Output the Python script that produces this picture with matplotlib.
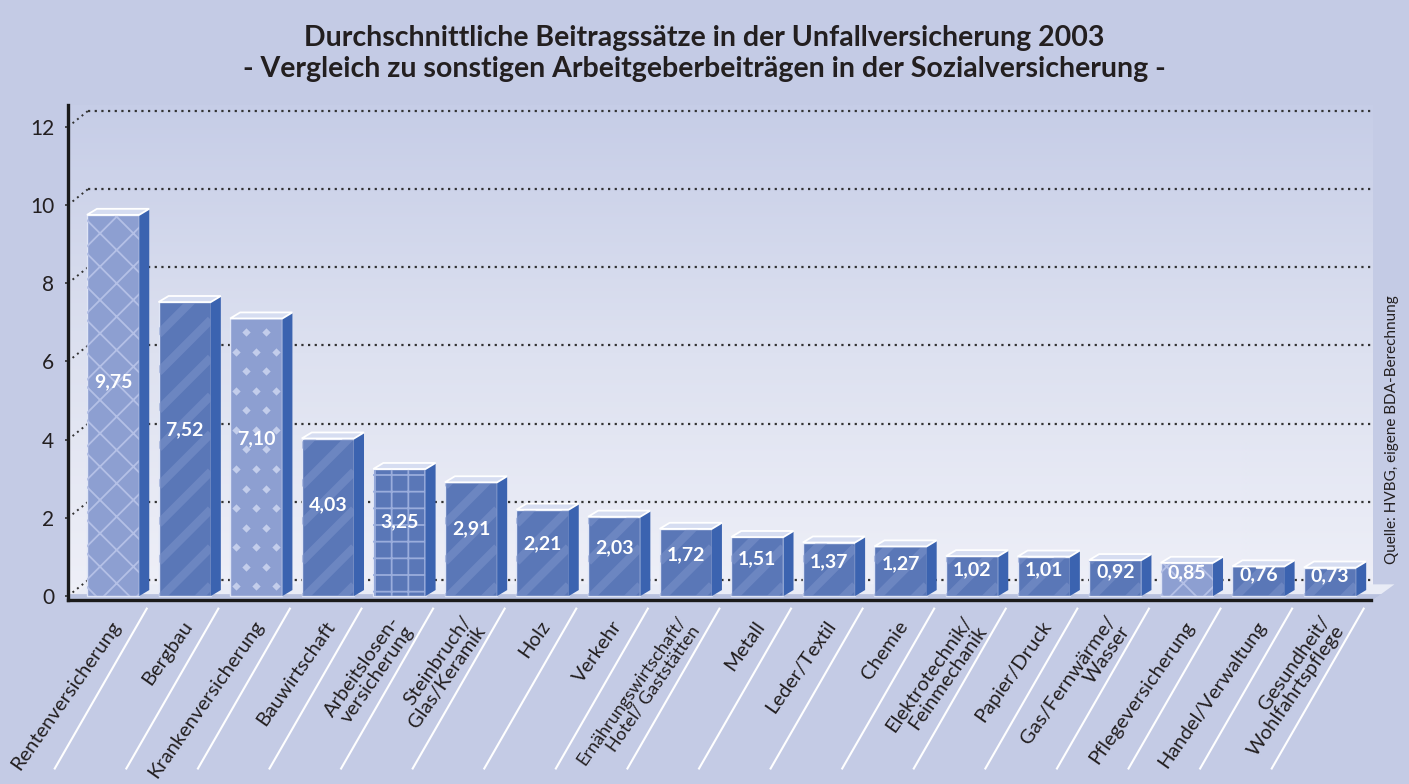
import numpy as np
import matplotlib
matplotlib.use("Agg")
import matplotlib.pyplot as plt
from matplotlib.patches import Polygon
from matplotlib.colors import LinearSegmentedColormap

plt.rcParams["font.family"] = ["Lato", "DejaVu Sans"]
plt.rcParams["hatch.linewidth"] = 1.3

# Daten
kategorien = [
    "Rentenversicherung", "Bergbau", "Krankenversicherung", "Bauwirtschaft",
    "Arbeitslosen-\nversicherung", "Steinbruch/\nGlas/Keramik", "Holz", "Verkehr",
    "Ernährungswirtschaft/\nHotel/ Gaststätten", "Metall", "Leder/Textil", "Chemie",
    "Elektrotechnik/\nFeinmechanik", "Papier/Druck", "Gas/Fernwärme/\nWasser",
    "Pflegeversicherung", "Handel/Verwaltung", "Gesundheit/\nWohlfahrtspflege",
]
werte = [9.75, 7.52, 7.10, 4.03, 3.25, 2.91, 2.21, 2.03, 1.72, 1.51, 1.37, 1.27,
         1.02, 1.01, 0.92, 0.85, 0.76, 0.73]
# Muster je Balken: Sozialversicherungszweige heller
muster = ["gitter", "streifen", "rauten", "streifen", "korb", "streifen", "streifen",
          "streifen", "streifen", "streifen", "streifen", "streifen", "streifen",
          "streifen", "streifen", "gitter", "streifen", "streifen"]
y_ticks = [0, 2, 4, 6, 8, 10, 12]

titel = ("Durchschnittliche Beitragssätze in der Unfallversicherung 2003\n"
         "- Vergleich zu sonstigen Arbeitgeberbeiträgen in der Sozialversicherung -")
quelle = "Quelle: HVBG, eigene BDA-Berechnung"

# Farben
bg_color = "#c4cbe5"
bar_dark = "#5a77b7"
bar_light = "#8d9fd1"
side_color = "#3b63b0"
top_color = "#d6ddf1"
text_color = "#231f20"

fig = plt.figure(figsize=(14.09, 7.84), dpi=100, facecolor=bg_color)
ax = fig.add_axes([68 / 1409, 184 / 784, 1305 / 1409, 495 / 784])
xl, xr = -0.63, 17.6
yl, yh = -0.10, 12.56
ax.set_facecolor(bg_color)

# Verlauf im Diagrammbereich
cmap = LinearSegmentedColormap.from_list("bg", ["#eff0f8", "#dde1f0", "#c6cde7"])
grad = np.linspace(0, 1, 256).reshape(-1, 1)
ax.imshow(grad, extent=[xl, xr, yl, yh], origin="lower", aspect="auto",
          cmap=cmap, zorder=0)
ax.set_xlim(xl, xr)
ax.set_ylim(yl, yh)

# Rueckwand-Gitternetz
gdx, gdy = 0.28, 0.41
for t in y_ticks:
    ax.plot([xl + gdx, xr], [t + gdy, t + gdy], color="#333333", lw=1.6,
            linestyle=(0, (1, 2)), zorder=1)
    ax.plot([xl, xl + gdx], [t, t + gdy], color="#333333", lw=1.4,
            linestyle=(0, (1, 2)), zorder=1)

# Boden
floor = Polygon([(xl, yl), (xr, yl), (xr + 0.3, 0.3), (xl + gdx, 0.3)],
                closed=True, facecolor="#e9ecf6", edgecolor="none",
                zorder=1.5, clip_on=False)
ax.add_patch(floor)
floor_shadow = Polygon([(xl, yl), (xr, yl), (xr + 0.12, 0.05), (xl, 0.05)],
                       closed=True, facecolor="#b9c2df", edgecolor="none",
                       zorder=1.6, clip_on=False)
ax.add_patch(floor_shadow)

x = np.arange(len(werte))
w = 0.73
farben = [bar_light if m in ("gitter", "rauten") else bar_dark for m in muster]
bars = ax.bar(x, werte, width=w, color=farben, edgecolor="#dfe5f6", linewidth=1.0,
              zorder=3)

ddx, ddy = 0.14, 0.155
px_ratio = 71.6 / 39.08
for xi, v, m, rect in zip(x, werte, muster, bars):
    x0, x1 = xi - w / 2, xi + w / 2
    # Muster
    if m == "gitter":
        ax.bar(xi, v, width=w, fill=False, edgecolor="#b4c0e6", linewidth=0,
               hatch="x", zorder=3.2)
    elif m == "korb":
        ax.bar(xi, v, width=w, fill=False, edgecolor="#9aaddc", linewidth=0,
               hatch="+", zorder=3.2)
    elif m == "rauten":
        ys = np.arange(0.25, v, 0.5)
        px, py = [], []
        for k, yy in enumerate(ys):
            off = 0.14 if k % 2 else 0.0
            for xx in np.arange(x0 + 0.08 + off, x1, 0.28):
                px.append(xx)
                py.append(yy)
        sc = ax.scatter(px, py, marker="D", s=18, color="#c3cdeb", linewidths=0,
                        zorder=3.2)
        sc.set_clip_path(rect)
    else:
        for y0 in np.arange(-3, v + 1, 0.97):
            ln, = ax.plot([x0, x1], [y0, y0 + w * px_ratio], color="#7f95cc",
                          lw=6, alpha=0.5, solid_capstyle="butt", zorder=3.1)
            ln.set_clip_path(rect)
    # Seitenflaeche
    side = Polygon([(x1, 0), (x1, v), (x1 + ddx, v + ddy), (x1 + ddx, ddy)],
                   closed=True, facecolor=side_color, edgecolor="none", zorder=3.3)
    ax.add_patch(side)
    # Deckflaeche
    top = Polygon([(x0, v), (x1, v), (x1 + ddx, v + ddy), (x0 + ddx, v + ddy)],
                  closed=True, facecolor=top_color, edgecolor="white", lw=1.3,
                  zorder=3.4)
    ax.add_patch(top)
    # Wert
    ax.text(xi, v * 0.55 + 0.12, f"{v:.2f}".replace(".", ","), color="white",
            fontsize=14, fontweight="bold", ha="center", va="center", zorder=4)

# Achsen
for s in ["top", "right"]:
    ax.spines[s].set_visible(False)
ax.spines["left"].set_linewidth(2.4)
ax.spines["bottom"].set_linewidth(2.4)
ax.spines["left"].set_color("#1a1a1a")
ax.spines["bottom"].set_color("#1a1a1a")
ax.spines["bottom"].set_bounds(xl, 17.57)
ax.spines["left"].set_zorder(5)
ax.spines["bottom"].set_zorder(5)
ax.set_yticks(y_ticks)
ax.set_yticklabels([str(t) for t in y_ticks], fontsize=15, color=text_color)
ax.tick_params(axis="y", length=2, width=1.2, pad=8, color="#333333")
ax.set_xticks([])

# Kategorien und Trennlinien
for xi, lab in zip(x, kategorien):
    fs = 13.0 if len(lab) > 30 else 14.5
    ax.text(xi + 0.05, -0.68, lab, rotation=55, rotation_mode="anchor",
            ha="right", va="center", multialignment="right", fontsize=fs,
            color=text_color, clip_on=False, linespacing=1.0)
    ax.plot([xi + 0.47, xi + 0.47 - 1.285], [-0.32, -4.41], color="white", lw=1.5,
            clip_on=False, zorder=2)

fig.text(0.5, 0.932, titel, ha="center", va="center", fontsize=20.5,
         fontweight="bold", color=text_color, linespacing=1.25)
fig.text(1392 / 1409, 1 - 430 / 784, quelle, rotation=90, ha="center",
         va="center", fontsize=11, color=text_color)

fig.savefig("out.png", dpi=100, facecolor=bg_color)
